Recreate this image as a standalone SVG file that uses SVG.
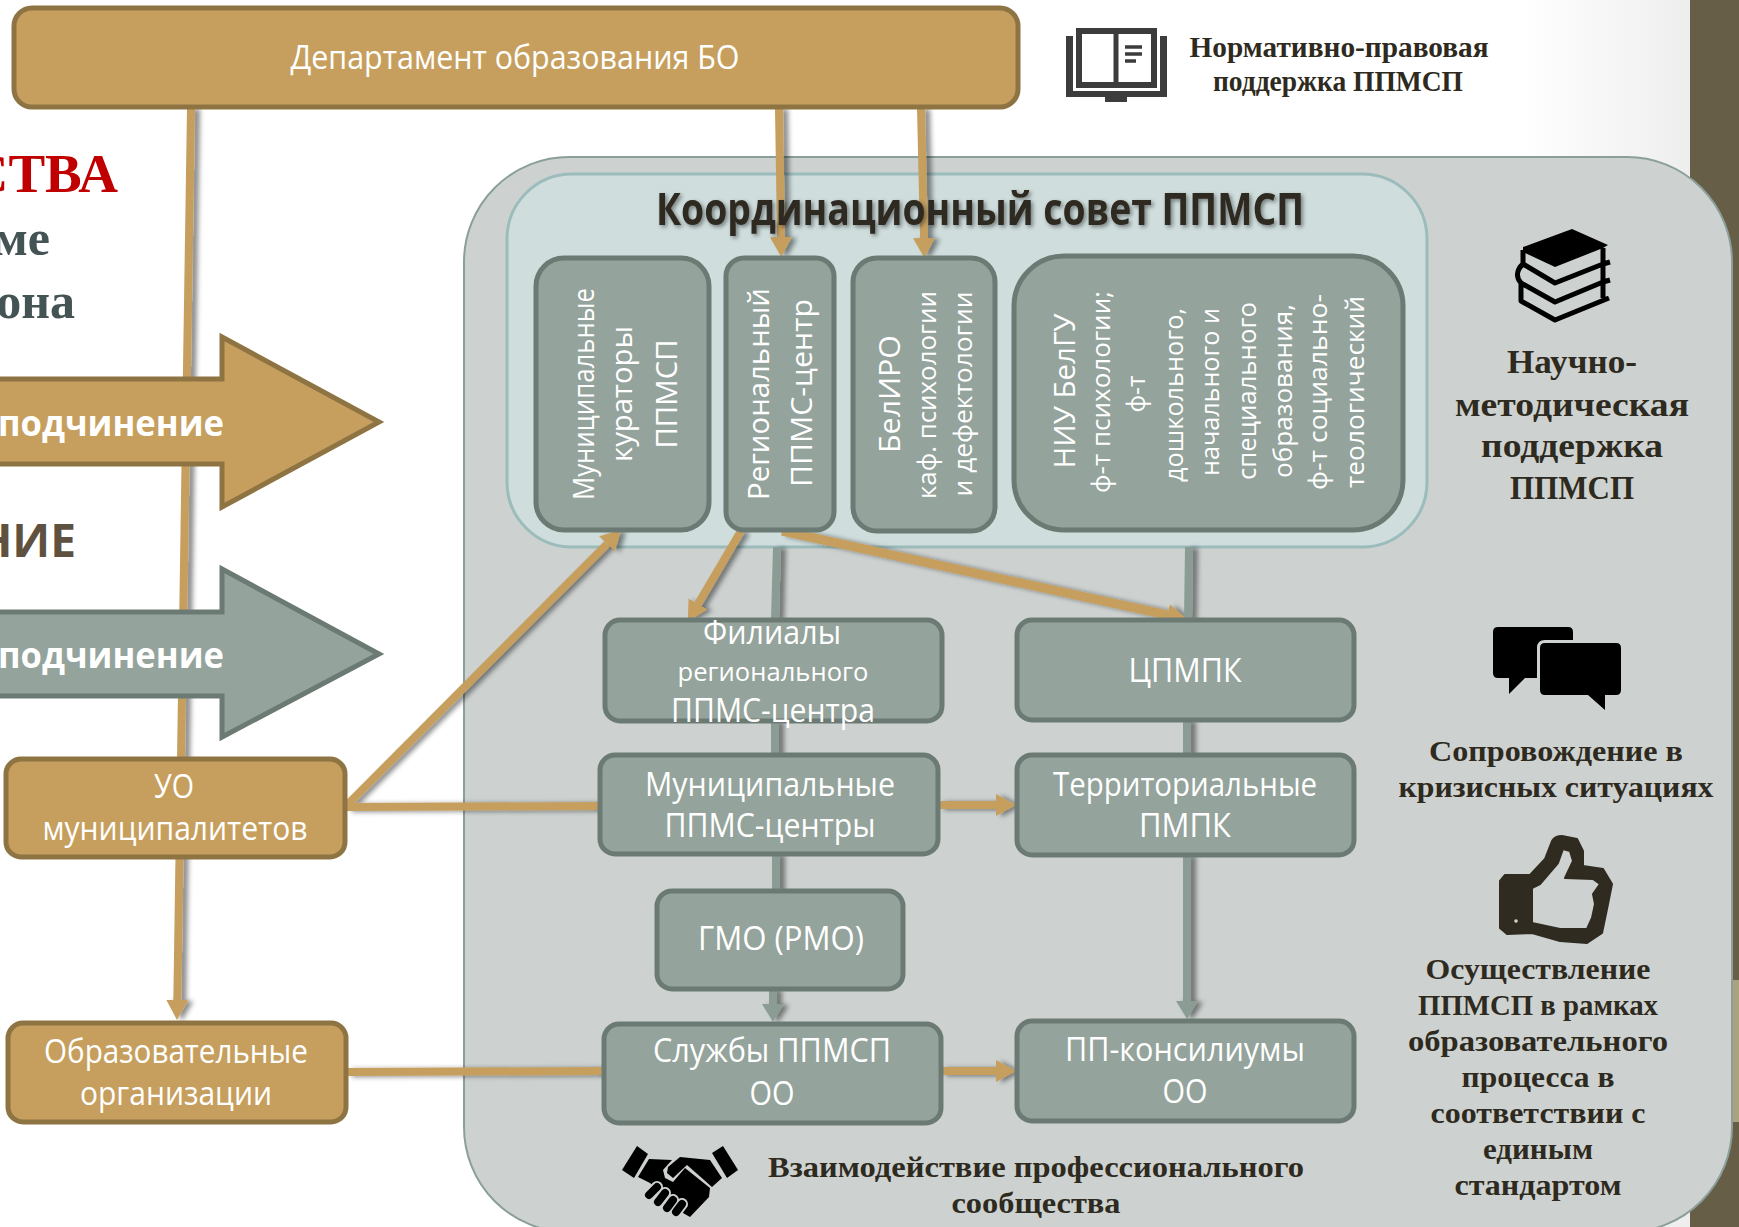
<svg xmlns="http://www.w3.org/2000/svg" width="1739" height="1227" viewBox="0 0 1739 1227">
<style>
.tan{fill:#c69f5e;stroke:#8f7443;stroke-width:5}
.gr{fill:#94a39b;stroke:#6c7a74;stroke-width:5}
.w{font-family:"Open Sans","Liberation Sans",sans-serif;fill:#fff;font-size:32px;text-anchor:middle}
.r{font-size:30px}
.q{font-size:26px}
.s{font-family:"Liberation Serif",serif;font-weight:bold;fill:#2e2a20;text-anchor:middle;font-size:29px}
.b{font-size:33px}
.lt{fill:none;stroke:#c69f5e;stroke-width:8}
.lg{fill:none;stroke:#8a9c94;stroke-width:8}
.ic{fill:#000}
.sk{fill:none;stroke:#000;stroke-width:5;stroke-linejoin:round}
</style>
<defs>
<linearGradient id="bg" x1="0" y1="0" x2="1" y2="0"><stop offset="0" stop-color="#fff"/><stop offset="1" stop-color="#eeeeee"/></linearGradient>
<filter id="sh" x="-20%" y="-20%" width="140%" height="140%"><feDropShadow dx="5" dy="1" stdDeviation="2.500" flood-color="#000" flood-opacity=".45"/></filter>
<filter id="ts" x="-5%" y="-20%" width="110%" height="140%"><feDropShadow dx="2" dy="2" stdDeviation="2" flood-color="#000" flood-opacity=".45"/></filter>
<marker id="at" markerUnits="userSpaceOnUse" markerWidth="22" markerHeight="22" refX="0" refY="11" orient="auto"><path d="M0 0L20 11L0 22Z" fill="#c69f5e"/></marker>
<marker id="ag" markerUnits="userSpaceOnUse" markerWidth="20" markerHeight="22" refX="0" refY="11" orient="auto"><path d="M0 0L18 11L0 22Z" fill="#8a9c94"/></marker>
</defs>
<rect width="1739" height="1227" fill="#fff"/>
<rect x="1520" y="0" width="170" height="1227" fill="url(#bg)"/>
<rect x="1690" y="0" width="49" height="1227" fill="#675e47"/>
<rect x="1690" y="980" width="49" height="142" fill="#a9a47f"/>
<g id="panel"><rect x="464" y="157" width="1268" height="1075" rx="105" fill="#cdd2d1" stroke="#8b9f9a" stroke-width="2"/></g>
<g id="council-panel"><rect x="507" y="174" width="920" height="373" rx="65" fill="#cfdddd" stroke="#9cbcbc" stroke-width="3"/></g>

<g id="left-text">
<text x="118" y="192" text-anchor="end" font-family="Liberation Serif,serif" font-weight="bold" font-size="55" fill="#c00000">СТВА</text>
<text x="50" y="255" text-anchor="end" font-family="Liberation Serif,serif" font-weight="bold" font-size="50" fill="#445354">ме</text>
<text x="75" y="318" text-anchor="end" font-family="Liberation Serif,serif" font-weight="bold" font-size="50" fill="#445354">она</text>
<text x="76" y="557" text-anchor="end" font-family="Open Sans,sans-serif" font-weight="bold" font-size="46" fill="#5f5140">НИЕ</text>
</g>

<g id="connectors" filter="url(#sh)">
<path class="lg" d="M777 547L775 620M775 721V755M776 854V891"/>
<path class="lg" d="M773 989V1004" marker-end="url(#ag)"/>
<path class="lg" d="M1189 547L1188 620M1187 720V755"/>
<path class="lg" d="M1187 855V1001" marker-end="url(#ag)"/>
<path class="lt" d="M191 108L177.300 1000" marker-end="url(#at)"/>
<path class="lt" d="M779 108L781 237" marker-end="url(#at)"/>
<path class="lt" d="M921 108L924 238" marker-end="url(#at)"/>
<path class="lt" d="M347 805L607 544" marker-end="url(#at)"/>
<path class="lt" d="M347 807L600 806"/>
<path class="lt" d="M939 805H996" marker-end="url(#at)"/>
<path class="lt" d="M347 1072L604 1071"/>
<path class="lt" d="M941 1071H996" marker-end="url(#at)"/>
<path class="lt" d="M741 531L698 604" marker-end="url(#at)"/>
<path class="lt" stroke-width="9" style="stroke-width:9" d="M782 531L1167.500 615" marker-end="url(#at)"/>
</g>

<g id="arrow-tan"><path class="tan" d="M-5 379H222V337L379 422L222 507V464H-5Z"/>
<text x="224" y="436" text-anchor="end" font-family="Open Sans,sans-serif" font-weight="bold" font-size="36" fill="#fff" textLength="226" lengthAdjust="spacingAndGlyphs">подчинение</text></g>
<g id="arrow-grey"><path class="gr" d="M-5 612H222V569L379 654L222 737V696H-5Z"/>
<text x="224" y="668" text-anchor="end" font-family="Open Sans,sans-serif" font-weight="bold" font-size="36" fill="#fff" textLength="226" lengthAdjust="spacingAndGlyphs">подчинение</text></g>

<g id="dept"><rect class="tan" x="14" y="8" width="1004" height="99" rx="18"/><text class="w" x="515" y="69" textLength="449" lengthAdjust="spacingAndGlyphs">Департамент образования БО</text></g>

<g id="title"><text x="980" y="225" text-anchor="middle" font-family="Open Sans,sans-serif" font-weight="bold" font-size="44" fill="#2e2a20" filter="url(#ts)" textLength="648" lengthAdjust="spacingAndGlyphs">Координационный совет ППМСП</text></g>

<g id="n-curators"><rect class="gr" x="536" y="258" width="173" height="272" rx="28"/>
<text class="w r" transform="translate(594 394) rotate(-90)" textLength="212" lengthAdjust="spacingAndGlyphs">Муниципальные</text>
<text class="w r" transform="translate(632 394) rotate(-90)" textLength="136" lengthAdjust="spacingAndGlyphs">кураторы</text>
<text class="w r" transform="translate(677 394) rotate(-90)" textLength="109" lengthAdjust="spacingAndGlyphs">ППМСП</text></g>
<g id="n-regional"><rect class="gr" x="726" y="258" width="108" height="272" rx="18"/>
<text class="w r" transform="translate(769 394) rotate(-90)" textLength="212" lengthAdjust="spacingAndGlyphs">Региональный</text>
<text class="w r" transform="translate(812 393) rotate(-90)" textLength="188" lengthAdjust="spacingAndGlyphs">ППМС-центр</text></g>
<g id="n-beliro"><rect class="gr" x="853" y="258" width="142" height="273" rx="24"/>
<text class="w r" transform="translate(900 394) rotate(-90)" textLength="118" lengthAdjust="spacingAndGlyphs">БелИРО</text>
<text class="w q" transform="translate(936 395) rotate(-90)" textLength="208" lengthAdjust="spacingAndGlyphs">каф. психологии</text>
<text class="w q" transform="translate(972 394) rotate(-90)" textLength="205" lengthAdjust="spacingAndGlyphs">и дефектологии</text></g>
<g id="n-niu"><rect class="gr" x="1014" y="256" width="389" height="274" rx="50"/>
<text class="w r" transform="translate(1075 391) rotate(-90)" textLength="155" lengthAdjust="spacingAndGlyphs">НИУ БелГУ</text>
<text class="w q" transform="translate(1110 392) rotate(-90)" textLength="202" lengthAdjust="spacingAndGlyphs">ф-т психологии;</text>
<text class="w q" transform="translate(1145 394) rotate(-90)" textLength="37" lengthAdjust="spacingAndGlyphs">ф-т</text>
<text class="w q" transform="translate(1183 395) rotate(-90)" textLength="174" lengthAdjust="spacingAndGlyphs">дошкольного,</text>
<text class="w q" transform="translate(1219 392) rotate(-90)" textLength="168" lengthAdjust="spacingAndGlyphs">начального и</text>
<text class="w q" transform="translate(1256 391) rotate(-90)" textLength="178" lengthAdjust="spacingAndGlyphs">специального</text>
<text class="w q" transform="translate(1292 391) rotate(-90)" textLength="174" lengthAdjust="spacingAndGlyphs">образования,</text>
<text class="w q" transform="translate(1327 392) rotate(-90)" textLength="196" lengthAdjust="spacingAndGlyphs">ф-т социально-</text>
<text class="w q" transform="translate(1364 392) rotate(-90)" textLength="192" lengthAdjust="spacingAndGlyphs">теологический</text>
</g>

<g id="n-filials"><rect class="gr" x="605" y="620" width="337" height="101" rx="15"/>
<text class="w" x="772" y="644" textLength="138" lengthAdjust="spacingAndGlyphs">Филиалы</text>
<text class="w" style="font-size:26px" x="773" y="681" textLength="191" lengthAdjust="spacingAndGlyphs">регионального</text>
<text class="w" x="773" y="722" textLength="204" lengthAdjust="spacingAndGlyphs">ППМС-центра</text></g>
<g id="n-cpmpk"><rect class="gr" x="1017" y="620" width="337" height="100" rx="15"/><text class="w" x="1185" y="682" textLength="113" lengthAdjust="spacingAndGlyphs">ЦПМПК</text></g>
<g id="n-mun-centers"><rect class="gr" x="600" y="755" width="338" height="99" rx="15"/>
<text class="w" x="770" y="796" textLength="250" lengthAdjust="spacingAndGlyphs">Муниципальные</text>
<text class="w" x="770" y="837" textLength="211" lengthAdjust="spacingAndGlyphs">ППМС-центры</text></g>
<g id="n-pmpk"><rect class="gr" x="1017" y="755" width="337" height="100" rx="15"/>
<text class="w" x="1185" y="796" textLength="264" lengthAdjust="spacingAndGlyphs">Территориальные</text>
<text class="w" x="1185" y="837" textLength="92" lengthAdjust="spacingAndGlyphs">ПМПК</text></g>
<g id="n-gmo"><rect class="gr" x="657" y="891" width="246" height="98" rx="15"/><text class="w" x="781" y="950" textLength="166" lengthAdjust="spacingAndGlyphs">ГМО (РМО)</text></g>
<g id="n-services"><rect class="gr" x="604" y="1024" width="337" height="99" rx="15"/>
<text class="w" x="772" y="1062" textLength="238" lengthAdjust="spacingAndGlyphs">Службы ППМСП</text>
<text class="w" x="772" y="1105" textLength="45" lengthAdjust="spacingAndGlyphs">ОО</text></g>
<g id="n-consilium"><rect class="gr" x="1017" y="1021" width="337" height="100" rx="15"/>
<text class="w" x="1185" y="1061" textLength="240" lengthAdjust="spacingAndGlyphs">ПП-консилиумы</text>
<text class="w" x="1185" y="1103" textLength="45" lengthAdjust="spacingAndGlyphs">ОО</text></g>
<g id="n-uo"><rect class="tan" x="6" y="759" width="339" height="98" rx="15"/>
<text class="w" x="174" y="798" textLength="40" lengthAdjust="spacingAndGlyphs">УО</text>
<text class="w" x="175" y="840" textLength="265" lengthAdjust="spacingAndGlyphs">муниципалитетов</text></g>
<g id="n-edu"><rect class="tan" x="8" y="1023" width="338" height="99" rx="15"/>
<text class="w" x="176" y="1063" textLength="264" lengthAdjust="spacingAndGlyphs">Образовательные</text>
<text class="w" x="176" y="1105" textLength="192" lengthAdjust="spacingAndGlyphs">организации</text></g>

<g id="side-texts">
<text class="s" x="1339" y="57" textLength="299" lengthAdjust="spacingAndGlyphs">Нормативно-правовая</text>
<text class="s" x="1338" y="91" textLength="250" lengthAdjust="spacingAndGlyphs">поддержка ППМСП</text>
<text class="s b" x="1572" y="373" textLength="130" lengthAdjust="spacingAndGlyphs">Научно-</text>
<text class="s b" x="1572" y="416" textLength="234" lengthAdjust="spacingAndGlyphs">методическая</text>
<text class="s b" x="1572" y="457" textLength="182" lengthAdjust="spacingAndGlyphs">поддержка</text>
<text class="s b" x="1572" y="499" textLength="124" lengthAdjust="spacingAndGlyphs">ППМСП</text>
<text class="s" x="1556" y="761" textLength="254" lengthAdjust="spacingAndGlyphs">Сопровождение в</text>
<text class="s" x="1556" y="797" textLength="315" lengthAdjust="spacingAndGlyphs">кризисных ситуациях</text>
<text class="s" x="1538" y="979" textLength="225" lengthAdjust="spacingAndGlyphs">Осуществление</text>
<text class="s" x="1538" y="1015" textLength="240" lengthAdjust="spacingAndGlyphs">ППМСП в рамках</text>
<text class="s" x="1538" y="1051" textLength="260" lengthAdjust="spacingAndGlyphs">образовательного</text>
<text class="s" x="1538" y="1087" textLength="153" lengthAdjust="spacingAndGlyphs">процесса в</text>
<text class="s" x="1538" y="1123" textLength="215" lengthAdjust="spacingAndGlyphs">соответствии с</text>
<text class="s" x="1538" y="1159" textLength="110" lengthAdjust="spacingAndGlyphs">единым</text>
<text class="s" x="1538" y="1195" textLength="167" lengthAdjust="spacingAndGlyphs">стандартом</text>
<text class="s" x="1036" y="1177" textLength="536" lengthAdjust="spacingAndGlyphs">Взаимодействие профессионального</text>
<text class="s" x="1036" y="1213" textLength="169" lengthAdjust="spacingAndGlyphs">сообщества</text>
</g>

<g id="icon-book">
<path d="M1066 36H1073V91H1160V36H1167V97H1127V102H1105V97H1066Z" fill="#3c3c3c"/>
<rect x="1079" y="31" width="75" height="54" fill="#fff" stroke="#3c3c3c" stroke-width="6"/>
<path d="M1116 30V86" stroke="#3c3c3c" stroke-width="5"/>
<path d="M1125 47H1142M1125 54H1142M1125 61H1136" stroke="#3c3c3c" stroke-width="3.500"/>
</g>
<g id="icon-books">
<path class="ic" d="M1523 247L1572 229L1608 245L1603 248L1555 267L1523 252Z"/>
<path class="sk" d="M1523 250V264L1555 283L1603 264L1610 262M1603 248V282M1523 264C1516 270 1516 278 1521 283L1555 302L1603 282L1610 280M1521 283V301L1555 320L1609 298M1603 282V298"/>
</g>
<g id="icon-chat">
<path class="ic" d="M1498 627H1568Q1573 627 1573 632V678H1525L1509 694V678H1498Q1493 678 1493 673V632Q1493 627 1498 627Z"/>
<path class="ic" d="M1545 643H1616Q1621 643 1621 648V690Q1621 695 1616 695H1605V710L1588 695H1545Q1540 695 1540 690V648Q1540 643 1545 643Z" stroke="#cdd2d1" stroke-width="6" paint-order="stroke"/>
</g>
<g id="icon-thumb">
<path fill="#2f2b20" fill-rule="evenodd" stroke="#2f2b20" stroke-width="2" stroke-linejoin="round" d="M1505 875L1530 875L1545 859L1552 841Q1555 836 1562 836L1577 839L1583 851L1583 866L1603 869L1612 884L1607 909L1602 933L1587 943L1560 941L1532 933L1507 934L1500 928L1500 881ZM1532 888L1540 884L1558 863L1563 849L1570 851L1573 861L1565 878L1593 879L1600 884L1593 894L1595 904L1592 918L1587 929L1560 929L1532 923Z"/>
<circle cx="1516" cy="921" r="1.800" fill="#cdd2d1"/>
</g>
<g id="icon-handshake">
<path class="ic" d="M622 1170L637 1146L648 1154L634 1178ZM712 1153L723 1146L738 1170L727 1178Z"/>
<path class="ic" d="M649 1159L672 1160L663 1170L665 1178L673 1182L685 1168L710 1188L709 1197L690 1217L683 1213L650 1183L638 1177Z"/>
<path class="ic" stroke="#cdd2d1" stroke-width="0" d="M680 1157L710 1160L722 1178L712 1187L687 1165L673 1178L667 1173L668 1167Z"/>
<g fill="none" stroke-linecap="round">
<path d="M649 1195L657 1187M658 1202L665 1193M667 1208L673 1200M676 1212L682 1204" stroke="#cdd2d1" stroke-width="12"/>
<path d="M649 1195L657 1187M658 1202L665 1193M667 1208L673 1200M676 1212L682 1204" stroke="#000" stroke-width="8"/>
</g>
</g>
</svg>
